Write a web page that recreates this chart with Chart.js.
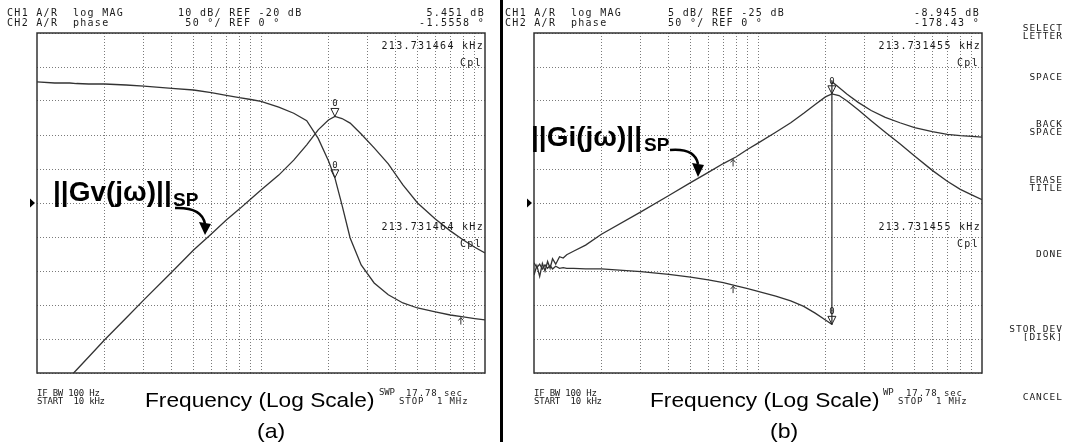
<!DOCTYPE html>
<html><head><meta charset="utf-8">
<script src="https://cdn.jsdelivr.net/npm/chart.js@4.4.1/dist/chart.umd.min.js"></script>
<style>
html,body{margin:0;padding:0;background:#fff;}
#wrap{position:relative;width:1069px;height:447px;overflow:hidden;background:#fff;}
canvas{position:absolute;left:0;top:0;}
.m{position:absolute;font-family:"DejaVu Sans Mono",monospace;font-size:10px;letter-spacing:1.3px;line-height:10px;color:#1a1a1a;white-space:pre;}
.k{position:absolute;font-family:"DejaVu Sans Mono",monospace;font-size:9.5px;letter-spacing:1px;line-height:7.7px;color:#1a1a1a;white-space:pre;text-align:right;}
.s{position:absolute;font-family:"DejaVu Sans Mono",monospace;font-size:9px;letter-spacing:-0.2px;line-height:7.5px;color:#1a1a1a;white-space:pre;}
.s2{position:absolute;font-family:"DejaVu Sans Mono",monospace;font-size:9px;letter-spacing:0.9px;line-height:7.5px;color:#1a1a1a;white-space:pre;}
.big{position:absolute;font-family:"Liberation Sans",Arial,sans-serif;color:#000;white-space:pre;transform-origin:0 0;}
.lab{position:absolute;font-family:"Liberation Sans",Arial,sans-serif;font-weight:bold;color:#000;white-space:pre;}
</style></head>
<body><div id="wrap">
<canvas id="cA" width="1069" height="447"></canvas>
<canvas id="cB" width="1069" height="447"></canvas>
<div style="position:absolute;left:500px;top:0;width:3px;height:442px;background:#000"></div>

<!-- panel (a) header -->
<div class="m" style="left:7px;top:8px">CH1 A/R  log MAG</div>
<div class="m" style="left:7px;top:18px">CH2 A/R  phase</div>
<div class="m" style="left:178px;top:8px">10 dB/ REF -20 dB</div>
<div class="m" style="left:178px;top:18px"> 50 °/ REF 0 °</div>
<div class="m" style="right:584px;top:8px">5.451 dB</div>
<div class="m" style="right:584px;top:18px">-1.5558 °</div>
<!-- panel (b) header -->
<div class="m" style="left:505px;top:8px">CH1 A/R  log MAG</div>
<div class="m" style="left:505px;top:18px">CH2 A/R  phase</div>
<div class="m" style="left:668px;top:8px">5 dB/ REF -25 dB</div>
<div class="m" style="left:668px;top:18px">50 °/ REF 0 °</div>
<div class="m" style="right:89px;top:8px">-8.945 dB</div>
<div class="m" style="right:89px;top:18px">-178.43 °</div>

<!-- marker readouts inside grids -->
<div class="m" style="right:585px;top:41px">213.731464 kHz</div>
<div class="m" style="right:587px;top:58px">Cpl</div>
<div class="m" style="right:585px;top:222px">213.731464 kHz</div>
<div class="m" style="right:587px;top:239px">Cpl</div>
<div class="m" style="right:88px;top:41px">213.731455 kHz</div>
<div class="m" style="right:90px;top:58px">Cpl</div>
<div class="m" style="right:88px;top:222px">213.731455 kHz</div>
<div class="m" style="right:90px;top:239px">Cpl</div>

<!-- softkeys -->
<div class="k" style="right:6px;top:24px">SELECT<br>LETTER</div>
<div class="k" style="right:6px;top:73px">SPACE</div>
<div class="k" style="right:6px;top:120px">BACK<br>SPACE</div>
<div class="k" style="right:6px;top:176px">ERASE<br>TITLE</div>
<div class="k" style="right:6px;top:250px">DONE</div>
<div class="k" style="right:6px;top:325px">STOR DEV<br>[DISK]</div>
<div class="k" style="right:6px;top:393px">CANCEL</div>

<!-- bottom lines (a) -->
<div class="s" style="left:37px;top:390px">IF BW 100 Hz<br>START  10 kHz</div>
<div class="s" style="left:379px;top:389px">SWP</div>
<div class="s2" style="left:406px;top:390px">17.78 sec</div>
<div class="s2" style="left:399px;top:397.5px">STOP  1 MHz</div>
<div class="big" style="left:145px;top:389px;font-size:21px;line-height:21px;transform:scaleX(1.08)">Frequency (Log Scale)</div>
<div class="big" style="left:257px;top:420px;font-size:21px;line-height:21px;transform:scaleX(1.1)">(a)</div>
<!-- bottom lines (b) -->
<div class="s" style="left:534px;top:390px">IF BW 100 Hz<br>START  10 kHz</div>
<div class="s" style="left:883px;top:389px">WP</div>
<div class="s2" style="left:906px;top:390px">17.78 sec</div>
<div class="s2" style="left:898px;top:397.5px">STOP  1 MHz</div>
<div class="big" style="left:650px;top:389px;font-size:21px;line-height:21px;transform:scaleX(1.08)">Frequency (Log Scale)</div>
<div class="big" style="left:770px;top:420px;font-size:21px;line-height:21px;transform:scaleX(1.1)">(b)</div>

<!-- annotation labels -->
<div class="lab" style="left:53px;top:178px;font-size:28px;line-height:28px">||Gv(jω)||</div>
<div class="lab" style="left:173px;top:190px;font-size:19px;line-height:19px">SP</div>
<div class="lab" style="left:531px;top:123px;font-size:28px;line-height:28px">||Gi(jω)||</div>
<div class="lab" style="left:644px;top:135px;font-size:19px;line-height:19px">SP</div>
</div>
<script>
// ---- data (frequency in kHz) ----
const gridFreqs = [20,30,40,50,60,70,80,90,100,200,300,400,500,600,700,800,900];

// panel (a): ||Gv|| magnitude (dB) and phase trace (deg, as drawn on the 50 deg/div grid)
const freqA  = [10,12,14,15,17,20,25,30,40,50,60,70,80,90,100,120,140,160,180,200,213.731464,230,250,280,320,370,430,500,600,700,800,900,1000];
const magA   = [-81,-75.9,-71.2,-69.1,-65.3,-60.3,-53.8,-48.5,-40.3,-33.8,-29.1,-25,-21.8,-18.8,-16.2,-11.8,-7.4,-2.9,1.5,4.4,5.451,4.85,3.5,0.3,-3.8,-8.5,-14.7,-20,-24.7,-28.2,-30.9,-33,-34.7];
const phaseA = [178,176.5,176.5,175.7,175,175,173.5,172,168.7,166.2,162.2,158.4,154.9,152.2,149.3,141,132,121,95,62,37,-3,-51.5,-91,-117.6,-135,-147,-154.4,-160,-164.7,-167.6,-169.9,-172];

// panel (b): ||Gi|| magnitude (dB) and phase (deg); phase wraps -180 -> +180 at the marker
const freqBm = [10,10.3,10.6,10.9,11.2,11.5,11.8,12.1,12.5,13,13.5,14,15,17,20,30,40,50,60,70,80,90,100,120,140,160,180,200,213.731455,230,250,280,320,370,430,500,600,700,800,900,1000];
const magB   = [-35.6,-34.2,-35.8,-33.9,-35.0,-33.6,-34.6,-33.2,-34.0,-32.9,-33.1,-32.6,-32.1,-31.2,-29.6,-26.3,-23.9,-22.0,-20.5,-19.2,-18.2,-17.1,-16.2,-14.6,-13.2,-11.8,-10.5,-9.4,-8.945,-9.2,-10.0,-11.3,-12.9,-14.6,-16.3,-18.1,-20.2,-21.8,-23.0,-23.8,-24.5];
const freqBp = [10,10.3,10.6,10.9,11.2,11.5,11.8,12.1,12.5,13,13.5,14,15,17,20,30,40,50,60,70,80,90,100,120,140,160,180,200,213.731455,213.74,230,250,280,320,370,430,500,600,700,800,900,1000];
const phaseB = [-88,-95,-90,-97,-91,-96,-92,-97,-93,-96,-95,-96,-96,-97,-97,-101,-105,-109,-113,-117,-122,-126,-130,-137,-144,-152,-162,-172,-178.43,178.5,170,160,148,136,126,118,111,105,101,99,98,97];

// marker frequencies (kHz)
const mkA = {f:213.731464, upF:780};
const mkB = {f:213.731455, upF:77.4};

// ---- drawing ----
function drawDelta(ctx, x, y){
  ctx.save();
  ctx.strokeStyle='#222'; ctx.lineWidth=1;
  ctx.beginPath(); ctx.moveTo(x-4, y-8); ctx.lineTo(x+4, y-8); ctx.lineTo(x, y); ctx.closePath(); ctx.stroke();
  ctx.fillStyle='#222'; ctx.font='9px "DejaVu Sans Mono"'; ctx.textAlign='center'; ctx.textBaseline='alphabetic';
  ctx.fillText('0', x, y-10);
  ctx.restore();
}
function drawUp(ctx, x, y){
  ctx.save(); ctx.strokeStyle='#333'; ctx.lineWidth=1;
  ctx.beginPath(); ctx.moveTo(x, y+1); ctx.lineTo(x, y+8);
  ctx.moveTo(x-2.5, y+4); ctx.lineTo(x, y+1); ctx.lineTo(x+2.5, y+4); ctx.stroke(); ctx.restore();
}
function curvedArrow(ctx, p){
  ctx.save(); ctx.strokeStyle='#000'; ctx.fillStyle='#000'; ctx.lineWidth=2.6;
  ctx.beginPath(); ctx.moveTo(p[0],p[1]); ctx.quadraticCurveTo(p[2],p[3],p[4],p[5]); ctx.stroke();
  ctx.beginPath(); ctx.moveTo(p[6],p[7]); ctx.lineTo(p[8],p[9]); ctx.lineTo(p[10],p[11]); ctx.closePath(); ctx.fill();
  ctx.restore();
}
// value of a dataset at frequency f (first segment that contains f, log-interpolated)
function valueAt(pts, f){
  for(let i=1;i<pts.length;i++){ if(pts[i-1].x<=f && pts[i].x>=f){
    const t=(Math.log(f)-Math.log(pts[i-1].x))/(Math.log(pts[i].x)-Math.log(pts[i-1].x)||1);
    return pts[i-1].y+t*(pts[i].y-pts[i-1].y); } }
  return pts[pts.length-1].y;
}
const instPlugin = {
  id:'inst',
  afterDatasetsDraw(chart, args, o){
    const ctx = chart.ctx, a = chart.chartArea;
    const xs = chart.scales.x, ym = chart.scales.yMag, yp = chart.scales.yPh;
    const dm = chart.data.datasets[0].data, dp = chart.data.datasets[1].data;
    ctx.save();
    ctx.strokeStyle='#333'; ctx.lineWidth=1.5;
    ctx.strokeRect(a.left, a.top, a.right-a.left, a.bottom-a.top);
    const yc = ym.getPixelForValue(o.ref);
    ctx.fillStyle='#000'; ctx.beginPath(); ctx.moveTo(a.left-7, yc-4.5); ctx.lineTo(a.left-2, yc); ctx.lineTo(a.left-7, yc+4.5); ctx.closePath(); ctx.fill();
    const mx = xs.getPixelForValue(o.mk.f);
    drawDelta(ctx, mx, ym.getPixelForValue(valueAt(dm, o.mk.f)));
    drawDelta(ctx, mx, yp.getPixelForValue(valueAt(dp, o.mk.f)));
    const ux = xs.getPixelForValue(o.mk.upF);
    o.ups.forEach(d=>{
      const sc = d===0?ym:yp;
      drawUp(ctx, ux, sc.getPixelForValue(valueAt(chart.data.datasets[d].data, o.mk.upF)));
    });
    curvedArrow(ctx, o.arrow);
    ctx.restore();
  }
};
function gridOpts(){ return {color:'#7a7a7a', lineWidth:1, drawTicks:false}; }
function makeChart(id, pad, fm, mag, fp, ph, magMin, magMax, magStep, inst){
  const toXY = (f, v) => f.map((x,i)=>({x:x, y:v[i]}));
  return new Chart(document.getElementById(id), {
    type:'line',
    data:{datasets:[
      {data:toXY(fm,mag), yAxisID:'yMag', borderColor:'#333', borderWidth:1.3, pointRadius:0, tension:0},
      {data:toXY(fp,ph), yAxisID:'yPh', borderColor:'#333', borderWidth:1.3, pointRadius:0, tension:0}
    ]},
    options:{
      responsive:false, animation:false, events:[],
      layout:{padding:pad},
      plugins:{legend:{display:false}, tooltip:{enabled:false}, inst:inst},
      scales:{
        x:{type:'logarithmic', min:10, max:1000,
           afterBuildTicks:(ax)=>{ ax.ticks = gridFreqs.map(v=>({value:v})); },
           ticks:{display:false}, grid:gridOpts(), border:{display:false, dash:[1,2]}},
        yMag:{position:'left', min:magMin, max:magMax, ticks:{display:false, stepSize:magStep},
           grid:gridOpts(), border:{display:false, dash:[1,2]}},
        yPh:{position:'right', min:-250, max:250, display:false}
      }
    },
    plugins:[instPlugin]
  });
}
makeChart('cA', {left:37, top:33, right:1069-485, bottom:447-373}, freqA, magA, freqA, phaseA, -70, 30, 10,
  {ref:-20, mk:mkA, ups:[1], arrow:[175,208, 202,207, 205,224, 199,222, 211,224, 205,235]});
makeChart('cB', {left:534, top:33, right:1069-982, bottom:447-373}, freqBm, magB, freqBp, phaseB, -50, 0, 5,
  {ref:-25, mk:mkB, ups:[0,1], arrow:[670,150, 695,148, 698,164, 692,163, 704,165, 698,177]});
</script>
</body></html>
